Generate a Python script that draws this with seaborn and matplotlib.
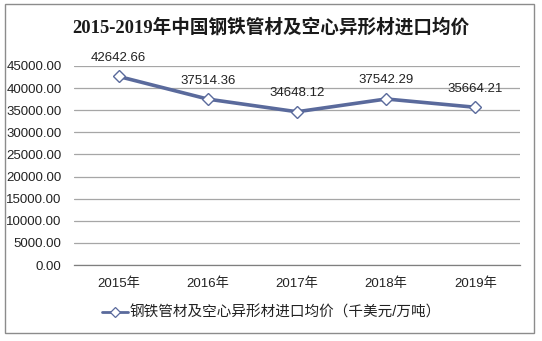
import matplotlib
matplotlib.use("Agg")
import matplotlib.pyplot as plt
from matplotlib.patches import Rectangle
from matplotlib.ticker import FixedLocator, FuncFormatter
from matplotlib.lines import Line2D
import seaborn as sns
import pandas as pd

years = ["2015年", "2016年", "2017年", "2018年", "2019年"]
prices = [42642.66, 37514.36, 34648.12, 37542.29, 35664.21]
series_name = "钢铁管材及空心异形材进口均价（千美元/万吨）"
title = "2015-2019年中国钢铁管材及空心异形材进口均价"

sns.set_theme(style="white")
plt.rcParams["font.family"] = ["Liberation Sans", "Noto Sans CJK SC", "DejaVu Sans"]

line_color = "#5a6a9c"
grid_color = "#a6a6a6"
text_color = "#222222"

df = pd.DataFrame({"pos": range(len(years)), "price": prices})

fig = plt.figure(figsize=(5.42, 3.41), dpi=100)
ax = fig.add_axes([74 / 542, 1 - 265 / 341, (520 - 74) / 542, (265 - 66) / 341])

sns.lineplot(data=df, x="pos", y="price", ax=ax, color=line_color, linewidth=2.6,
             marker="D", markersize=6, markerfacecolor="white",
             markeredgecolor=line_color, markeredgewidth=1.0, legend=False,
             zorder=3)

for x, v in zip(df["pos"], df["price"]):
    ax.annotate(f"{v:.2f}", (x, v), xytext=(0, 9), textcoords="offset points",
                ha="center", va="bottom", fontsize=9.5, color=text_color)

ax.set_xlim(-0.5, len(years) - 0.5)
ax.set_ylim(0, 45000)
ax.yaxis.set_major_locator(FixedLocator(range(0, 45001, 5000)))
ax.yaxis.set_major_formatter(FuncFormatter(lambda v, p: f"{v:.2f}"))
ax.grid(axis="y", color=grid_color, linewidth=0.9)
ax.set_axisbelow(True)

ax.set_xticks(range(len(years)))
ax.set_xticklabels(years)
ax.set_xticks([i - 0.5 for i in range(len(years) + 1)], minor=True)
ax.tick_params(axis="x", which="major", length=0, pad=9, labelsize=9.5, colors=text_color)
ax.tick_params(axis="x", which="minor", length=4, width=0.9, color="#7f7f7f", direction="out")
ax.tick_params(axis="y", length=0, pad=9, labelsize=9.5, colors=text_color)
ax.set_xlabel("")
ax.set_ylabel("")

for side in ["top", "right", "left"]:
    ax.spines[side].set_visible(False)
ax.spines["bottom"].set_color("#7f7f7f")
ax.spines["bottom"].set_linewidth(0.9)

handle = Line2D([], [], color=line_color, linewidth=2.0, marker="D", markersize=5,
                markerfacecolor="white", markeredgecolor=line_color, markeredgewidth=0.9)
fig.legend([handle], [series_name], loc="center", bbox_to_anchor=(0.5, 1 - 313 / 341),
           frameon=False, fontsize=10.5, handlelength=1.8, handletextpad=0.1,
           labelcolor=text_color)

fig.text(0.5, 1 - 27 / 341, title, ha="center", va="center", fontsize=13.4,
         fontweight="bold", color="#1a1a1a",
         family=["Liberation Serif", "Noto Sans CJK SC", "DejaVu Sans"])

fig.patches.append(Rectangle((5 / 542, 1 - 333 / 341), (534 - 5) / 542, (333 - 4) / 341,
                             transform=fig.transFigure, fill=False,
                             edgecolor="#8c8c8c", linewidth=1.0))

fig.savefig("out.png", dpi=100)
